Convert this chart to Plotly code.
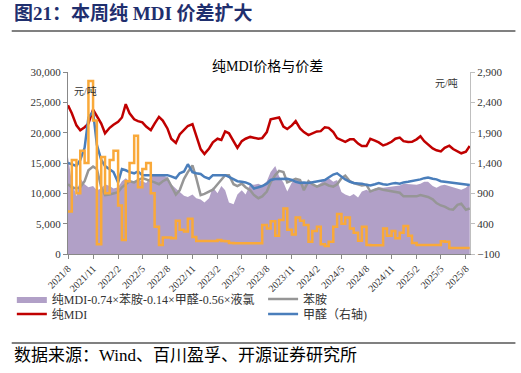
import pandas as pd
import plotly.graph_objects as go

# semi-monthly observation dates
dates = pd.date_range("2021-08-01", periods=98, freq="SMS")

tick_dates = pd.date_range("2021-08-01", "2025-08-01", freq="3MS")
tick_labels = ["2021/8", "2021/11", "2022/2", "2022/5", "2022/8", "2022/11", "2023/2", "2023/5",
               "2023/8", "2023/11", "2024/2", "2024/5", "2024/8", "2024/11", "2025/2", "2025/5", "2025/8"]

mdi = [24500, 23200, 21200, 20400, 20900, 21500, 23800, 22800, 21500, 19900,
       20800, 21300, 21800, 22500, 24700, 23200, 22200, 21900, 21700, 21000,
       20400, 21500, 22600, 22000, 20700, 19000, 18300, 19700, 20500, 21100,
       21400, 19300, 17300, 16500, 17400, 18400, 19000, 18800, 20200, 19900,
       18500, 17500, 18600, 19000, 19300, 19200, 19000, 19100, 20100, 22200,
       22400, 22500, 21000, 20600, 21200, 21900, 20700, 20100, 19600, 19900,
       20200, 20250, 20900, 20800, 20100, 19100, 18800, 18500, 18900, 18900,
       18200, 17800, 17800, 19000, 18700, 18400, 17900, 18100, 18500, 19000,
       19200, 18600, 18450, 18500, 18900, 19400, 18600, 18000, 17400, 17100,
       16900, 17500, 17850, 17300, 16900, 16600, 16860, 17800]

formaldehyde = [1400, 1380, 1350, 1450, 1650, 2150, 2250, 1700, 1450, 1350,
                1300, 1250, 1080, 1300, 1280, 1250, 1230, 1260, 1200, 1200,
                1190, 1200, 1190, 1200, 1200, 1180, 1150, 1230, 1260, 1380,
                1250, 1230, 1220, 1170, 1140, 1200, 1200, 1200, 1200, 1170,
                1130, 1100, 1090, 1080, 1050, 980, 1000, 1020, 1060, 1120,
                1135, 1135, 1130, 1140, 1120, 1090, 1070, 1080, 1070, 1080,
                1100, 1110, 1120, 1160, 1210, 1230, 1170, 1130, 1090, 1070,
                1064, 1060, 1040, 1030, 1050, 1070, 1050, 1040, 1060, 1070,
                1060, 1080, 1090, 1100, 1120, 1130, 1150, 1160, 1140, 1130,
                1100, 1090, 1080, 1070, 1060, 1050, 1040, 1036]

aniline = [11500, 11000, 10800, 11000, 12000, 13800, 14400, 14000, 11000, 9700,
           9800, 10000, 10200, 11000, 11500, 12000, 11800, 12200, 12500, 12300,
           12000, 11800, 11500, 12000, 12400, 11300, 9800, 10500, 12400, 13500,
           14600, 12500, 9700, 9900, 10300, 10600, 11500, 12200, 13000, 13000,
           11500, 11200, 11600, 11000, 10500, 9700, 9200, 9500, 10300, 11800,
           13000, 13700, 13500, 11800, 12200, 12400, 12200, 10500, 12000, 11500,
           11100, 11400, 11600, 11300, 11100, 11500, 12500, 12900, 12000, 11700,
           11500, 11300, 11400, 10300, 10600, 10800, 10600, 10500, 10300, 10200,
           10100, 9500, 9500, 9450, 9500, 9700, 9600, 9400, 9000, 8400,
           8000, 7800, 7400, 7300, 8100, 8300, 7300, 7500]

spread = [16000, 12000, 9500, 12500, 11500, 11000, 11200, 10500, 10800, 11500,
          11200, 10800, 11000, 12000, 12500, 12000, 11800, 12200, 12000, 11700,
          12800, 13000, 12900, 13000, 12600, 11500, 10800, 10200, 9600, 9400,
          9800, 9200, 9000, 8500, 9200, 11000, 10000, 11200, 10500, 8500,
          8200, 9800, 10500, 9800, 11500, 11400, 11600, 11300, 12000, 13500,
          14500, 12800, 11800, 10300, 11800, 12300, 12200, 11800, 11500, 11600,
          11300, 11700, 12300, 12500, 11900, 12200, 10200, 9800, 9500, 9900,
          9300, 10300, 10600, 10200, 10800, 11000, 10900, 11000, 11100, 11200,
          11300, 11600, 11500, 11400, 11400, 11600, 11900, 11900, 11200, 10900,
          11300, 11400, 11200, 11000, 10800, 10600, 10900, 11600]

chlorine = [600, 1450, 900, 1600, 1400, 2750, 2100, 60, 1500, 900,
            1450, 1600, 700, 130, 1100, 1400, 1850, 1000, 1300, 1400,
            900, 350, 50, 170, 170, 160, 450, 300, 270, 480,
            180, 115, 115, 115, 115, 115, 130, 115, 110, 80,
            76, 76, 76, 76, 76, 76, 76, 380, 320, 440,
            200, 460, 650, 300, 220, 500, 450, 380, 100, 280,
            350, 60, 30, 100, 350, 560, 400, 500, 320, 250,
            120, 350, 50, 45, 45, 45, 320, 200, 280, 160,
            250, 360, 200, 80, 48, 48, 48, 48, 48, 50,
            110, 100, 0, 0, 0, 0, 0, 0]

SERIF = "Liberation Serif, Noto Sans CJK SC, serif"

fig = go.Figure()
fig.add_trace(go.Scatter(x=dates, y=spread, name="纯MDI-0.74×苯胺-0.14×甲醛-0.56×液氯",
                         fill="tozeroy", fillcolor="#B1A0C7", mode="lines",
                         line=dict(width=0, color="#B1A0C7"), legend="legend"))
fig.add_trace(go.Scatter(x=dates, y=aniline, name="苯胺", mode="lines",
                         line=dict(color="#969696", width=2.5), legend="legend2"))
fig.add_trace(go.Scatter(x=dates, y=mdi, name="纯MDI", mode="lines",
                         line=dict(color="#C00000", width=2.5), legend="legend3"))
fig.add_trace(go.Scatter(x=dates, y=formaldehyde, name="甲醛（右轴)", mode="lines", yaxis="y2",
                         line=dict(color="#4A7EBB", width=2.5), legend="legend4"))
fig.add_trace(go.Scatter(x=dates, y=chlorine, name="液氯", mode="lines", yaxis="y2",
                         showlegend=False, line=dict(color="#F9A93A", width=2.5, shape="hv")))

axis_font = dict(family=SERIF, size=11, color="#333333")
leg_font = dict(family=SERIF, size=12, color="#333333")

def leg(px, py):
    return dict(x=(px - 62) / 408, y=(254 - py) / 182, xanchor="left", yanchor="middle",
                orientation="v", font=leg_font, bgcolor="rgba(0,0,0,0)", borderwidth=0)

fig.update_layout(
    width=521, height=373,
    margin=dict(l=62, r=51, t=72, b=119),
    paper_bgcolor="white", plot_bgcolor="white",
    font=dict(family=SERIF, size=11, color="#333333"),
    xaxis=dict(type="date", range=["2021-08-01", "2025-08-16"],
               tickvals=tick_dates, ticktext=tick_labels, tickangle=-45,
               showline=True, linecolor="#888888", linewidth=1,
               ticks="outside", ticklen=4, tickcolor="#888888",
               showgrid=False, zeroline=False, tickfont=dict(family=SERIF, size=10, color="#333333")),
    yaxis=dict(range=[0, 30000], dtick=5000, tickformat=",", showgrid=False, zeroline=False,
               showline=True, linecolor="#888888", linewidth=1, ticks="outside", ticklen=4,
               tickcolor="#888888", tickfont=axis_font),
    yaxis2=dict(range=[-100, 2900], dtick=500, tick0=-100, tickformat=",", overlaying="y", side="right",
                showgrid=False, zeroline=False, showline=True, linecolor="#BFBFBF", linewidth=1,
                ticks="outside", ticklen=4, tickcolor="#BFBFBF", tickfont=axis_font),
    legend=leg(5, 299),
    legend2=leg(260, 299),
    legend3=leg(5, 314),
    legend4=leg(260, 314),
    showlegend=True,
)

fig.add_shape(type="line", xref="paper", yref="paper", x0=-0.14, x1=1.113, y0=1.2253, y1=1.2253,
              line=dict(color="#808080", width=2))
fig.add_shape(type="line", xref="paper", yref="paper", x0=-0.14, x1=1.113, y0=-0.489, y1=-0.489,
              line=dict(color="#808080", width=2))

fig.add_annotation(text="<b>图21：本周纯 MDI 价差扩大</b>", xref="paper", yref="paper",
                   x=-0.1397, y=1.3187, xanchor="left", yanchor="middle", showarrow=False,
                   font=dict(family=SERIF, size=19, color="#1F2F6E"))
fig.add_annotation(text="纯MDI价格与价差", xref="paper", yref="paper", x=0.4975, y=1.0275,
                   xanchor="center", yanchor="middle", showarrow=False,
                   font=dict(family=SERIF, size=14, color="#000000"))
fig.add_annotation(text="元/吨", xref="paper", yref="paper", x=0.044, y=0.8956,
                   xanchor="center", yanchor="middle", showarrow=False,
                   font=dict(family=SERIF, size=10, color="#333333"))
fig.add_annotation(text="元/吨", xref="paper", yref="paper", x=0.941, y=0.9396,
                   xanchor="center", yanchor="middle", showarrow=False,
                   font=dict(family=SERIF, size=10, color="#333333"))
fig.add_annotation(text="数据来源：Wind、百川盈孚、开源证券研究所", xref="paper", yref="paper",
                   x=-0.1397, y=-0.56, xanchor="left", yanchor="middle", showarrow=False,
                   font=dict(family=SERIF, size=17, color="#000000"))

fig.write_html("out.html", config={"displayModeBar": False},
               post_script="document.body.style.margin='0';")
